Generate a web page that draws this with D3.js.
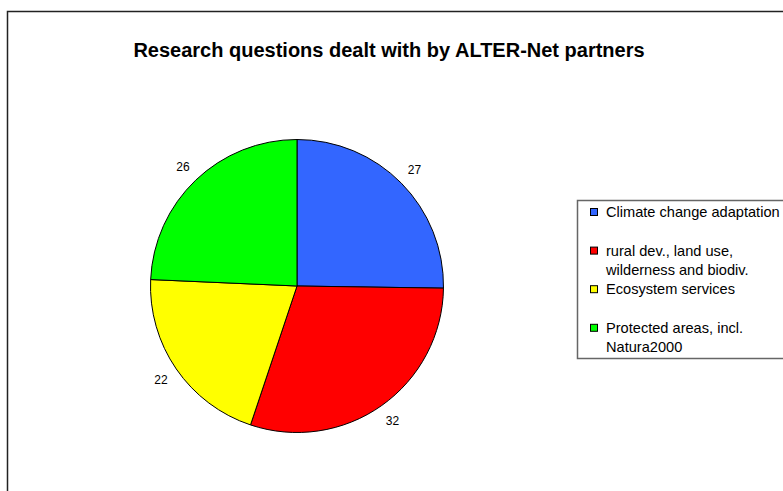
<!DOCTYPE html>
<html>
<head>
<meta charset="utf-8">
<script src="https://cdn.jsdelivr.net/npm/d3@7"></script>
<style>
  html, body { margin: 0; padding: 0; background: #fff; }
  svg { display: block; }
  text { font-family: "Liberation Sans", Arial, sans-serif; }
</style>
</head>
<body>
<svg id="chart" width="783" height="491"></svg>
<script>
const title = "Research questions dealt with by ALTER-Net partners";
const categories = ["Climate change adaptation", "rural dev., land use, wilderness and biodiv.", "Ecosystem services", "Protected areas, incl. Natura2000"];
const legendLines = [["Climate change adaptation"], ["rural dev., land use,", "wilderness and biodiv."], ["Ecosystem services"], ["Protected areas, incl.", "Natura2000"]];
const values = [27, 32, 22, 26];
const colors = ["#3366FF", "#FF0000", "#FFFF00", "#00FF00"];

const svg = d3.select("#chart");

// outer chart border (extends past right/bottom edges)
svg.append("rect")
  .attr("x", 7.5).attr("y", 11.5)
  .attr("width", 820).attr("height", 520)
  .attr("fill", "#fff").attr("stroke", "#222").attr("stroke-width", 1.5);

svg.append("text")
  .attr("x", 389).attr("y", 57)
  .attr("text-anchor", "middle")
  .attr("font-size", 20).attr("font-weight", "bold")
  .attr("fill", "#000")
  .text(title);

const cx = 297, cy = 286, r = 146.5;
const pie = d3.pie().sort(null).value(d => d)(values);
const arc = d3.arc().innerRadius(0).outerRadius(r);
const labelArc = d3.arc().innerRadius(165).outerRadius(165);

const g = svg.append("g").attr("transform", `translate(${cx},${cy})`);
g.selectAll("path").data(pie).join("path")
  .attr("d", arc)
  .attr("fill", (d, i) => colors[i])
  .attr("stroke", "#000").attr("stroke-width", 1);

g.selectAll("text.lbl").data(pie).join("text")
  .attr("class", "lbl")
  .attr("transform", d => `translate(${labelArc.centroid(d)})`)
  .attr("text-anchor", "middle")
  .attr("dy", "0.35em")
  .attr("font-size", 12)
  .attr("fill", "#000")
  .text(d => d.data);

// legend
const lg = svg.append("g");
lg.append("rect")
  .attr("x", 577.5).attr("y", 200.5)
  .attr("width", 260).attr("height", 158)
  .attr("fill", "#fff").attr("stroke", "#666").attr("stroke-width", 1.5);

const L = 19.3, y0 = 212;
categories.forEach((c, i) => {
  const yc = y0 + i * 2 * L;
  lg.append("rect")
    .attr("x", 590.5).attr("y", yc - 3.5)
    .attr("width", 7).attr("height", 7)
    .attr("fill", colors[i]).attr("stroke", "#000").attr("stroke-width", 1);
  legendLines[i].forEach((line, j) => {
    lg.append("text")
      .attr("x", 606).attr("y", yc + j * L)
      .attr("dy", "0.35em")
      .attr("font-size", 14.6)
      .attr("fill", "#000")
      .text(line);
  });
});
</script>
</body>
</html>
